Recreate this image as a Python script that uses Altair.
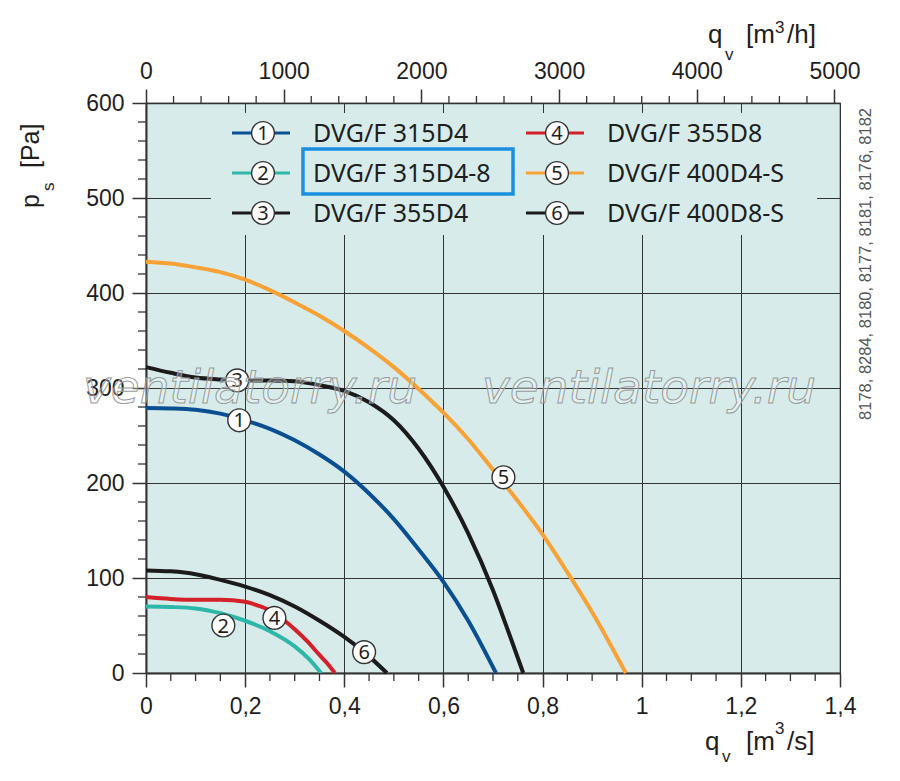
import altair as alt
import pandas as pd

# ---------------- data ----------------
series_names = ["DVG/F 315D4", "DVG/F 315D4-8", "DVG/F 355D4",
                "DVG/F 355D8", "DVG/F 400D4-S", "DVG/F 400D8-S"]
series_nums = ["1", "2", "3", "4", "5", "6"]
series_colors = ["#0b4f93", "#2db7a8", "#1b1b1b", "#d3202a", "#f7a136", "#1b1b1b"]

# curve 1 : DVG/F 315D4
q1 = [0, 0.05, 0.1, 0.15, 0.2, 0.25, 0.3, 0.35, 0.4, 0.45, 0.5, 0.55, 0.6, 0.65, 0.706]
p1 = [279, 278.5, 277, 273, 266, 257, 245, 230, 212, 189, 162, 130, 96, 55, 0]
# curve 2 : DVG/F 315D4-8
q2 = [0, 0.05, 0.1, 0.15, 0.2, 0.25, 0.3, 0.33, 0.353]
p2 = [70, 69.5, 68, 63, 55, 44, 28, 14, 0]
# curve 3 : DVG/F 355D4
q3 = [0, 0.05, 0.1, 0.15, 0.2, 0.25, 0.3, 0.35, 0.4, 0.45, 0.5, 0.55, 0.6, 0.65, 0.7, 0.73, 0.761]
p3 = [322, 316, 311, 309, 308, 308, 307, 303, 297, 285, 266, 236, 196, 147, 87, 45, 0]
# curve 4 : DVG/F 355D8
q4 = [0, 0.05, 0.1, 0.15, 0.2, 0.22, 0.25, 0.28, 0.3, 0.324, 0.35, 0.365, 0.381]
p4 = [80, 78, 77, 77, 75, 72, 66, 55, 46, 34, 19, 10.5, 0]
# curve 5 : DVG/F 400D4-S
q5 = [0, 0.05, 0.1, 0.15, 0.2, 0.25, 0.3, 0.35, 0.4, 0.45, 0.5, 0.55, 0.6, 0.65,
      0.7, 0.75, 0.8, 0.85, 0.9, 0.968]
p5 = [433, 431, 427, 422, 414, 403, 390, 376, 360, 342, 322, 299, 274, 246,
      214, 181, 146, 106, 64, 0]
# curve 6 : DVG/F 400D8-S
q6 = [0, 0.05, 0.1, 0.15, 0.2, 0.25, 0.3, 0.35, 0.4, 0.44, 0.486]
p6 = [108, 107, 104, 98, 91, 82, 70, 55, 38, 22, 0]

# circled curve labels
label_q = [0.188, 0.156, 0.184, 0.259, 0.721, 0.44]
label_p = [266, 50, 308, 58, 206, 22]

# axes
x_ticks = [0, 0.2, 0.4, 0.6, 0.8, 1.0, 1.2, 1.4]
x_minor = [0.05, 0.1, 0.15, 0.25, 0.3, 0.35, 0.45, 0.5, 0.55, 0.65, 0.7, 0.75,
           0.85, 0.9, 0.95, 1.05, 1.1, 1.15, 1.25, 1.3, 1.35]
y_ticks = [0, 100, 200, 300, 400, 500, 600]
y_minor = [20, 40, 60, 80, 120, 140, 160, 180, 220, 240, 260, 280, 320, 340, 360,
           380, 420, 440, 460, 480, 520, 540, 560, 580]
h_ticks = [0, 1000, 2000, 3000, 4000, 5000]
h_minor = [200, 400, 600, 800, 1200, 1400, 1600, 1800, 2200, 2400, 2600, 2800,
           3200, 3400, 3600, 3800, 4200, 4400, 4600, 4800]

code_text = "8178, 8284, 8180, 8177, 8181, 8176, 8182"
watermark = "ventilatorry.ru"

# ---------------- tables ----------------
curve_df = pd.concat([
    pd.DataFrame({"q": q, "p": p, "name": n})
    for q, p, n in zip([q1, q2, q3, q4, q5, q6], [p1, p2, p3, p4, p5, p6], series_names)
], ignore_index=True)
label_df = pd.DataFrame({"q": label_q, "p": label_p, "num": series_nums, "name": series_names})
legend_df = pd.DataFrame({"name": series_names, "num": series_nums,
                          "col": [0, 0, 0, 1, 1, 1], "row": [0, 1, 2, 0, 1, 2]})
one = pd.DataFrame({"a": [0]})

BG = "#d7ecea"
INK = "#1e1e1e"
GRID = "#333333"
AXFONT = "Liberation Sans"
LGFONT = "Noto Sans"

XS = alt.Scale(domain=[0, 1.4], nice=False, zero=False)
YS = alt.Scale(domain=[0, 600], nice=False, zero=False)
CS = alt.Scale(domain=series_names, range=series_colors)

AX_X = alt.Axis(
    orient="bottom", values=x_ticks, title=None, grid=True, gridColor=GRID,
    gridWidth=1, domainColor=GRID, domainWidth=2, tickColor=GRID, tickWidth=1.5,
    tickSize=14, labelFont=AXFONT, labelFontSize=23, labelColor=INK,
    labelPadding=8, labelFlush=False,
    labelExpr="replace(format(datum.value, '~g'), '.', ',')")
AX_Y = alt.Axis(
    orient="left", values=y_ticks, title=None, grid=True, gridColor=GRID,
    gridWidth=1, domainColor=GRID, domainWidth=2, tickColor=GRID, tickWidth=1.5,
    tickSize=14, labelFont=AXFONT, labelFontSize=23, labelColor=INK,
    labelPadding=8, labelFlush=False, format="d")

# ---------------- layers (m3/s scale) ----------------
curves = alt.Chart(curve_df).mark_line(strokeWidth=4, interpolate="monotone").encode(
    x=alt.X("q:Q", scale=XS, axis=AX_X),
    y=alt.Y("p:Q", scale=YS, axis=AX_Y),
    color=alt.Color("name:N", scale=CS, legend=None),
    order=alt.Order("q:Q"),
)

xminor = alt.Chart(pd.DataFrame({"q": x_minor})).mark_rule(color=GRID, strokeWidth=1.3).encode(
    x=alt.X("q:Q", scale=XS, axis=AX_X), y=alt.value(570), y2=alt.value(578))
yminor = alt.Chart(pd.DataFrame({"p": y_minor})).mark_rule(color=GRID, strokeWidth=1.3).encode(
    y=alt.Y("p:Q", scale=YS, axis=AX_Y), x=alt.value(0), x2=alt.value(-8))

legend_bg = alt.Chart(one).mark_rect(fill=BG, stroke=None).encode(
    x=alt.value(65), x2=alt.value(671), y=alt.value(10), y2=alt.value(132))

lg = alt.Chart(legend_df).transform_calculate(
    lx1="86 + datum.col * 294", lx2="144 + datum.col * 294",
    cx="117 + datum.col * 294", tx="167 + datum.col * 294",
    ly="30 + datum.row * 40")
leg_lines = lg.mark_rule(strokeWidth=3).encode(
    x=alt.X("lx1:Q", scale=None), x2="lx2:Q",
    y=alt.Y("ly:Q", scale=None),
    color=alt.Color("name:N", scale=CS, legend=None))
leg_circ = lg.mark_point(shape="circle", size=520, filled=True, fill="white",
                         stroke="#333333", strokeWidth=1.4, opacity=1).encode(
    x=alt.X("cx:Q", scale=None), y=alt.Y("ly:Q", scale=None))
leg_num = lg.mark_text(font=LGFONT, fontSize=20, color=INK, baseline="middle", dy=1).encode(
    x=alt.X("cx:Q", scale=None), y=alt.Y("ly:Q", scale=None), text="num:N")
leg_txt = lg.mark_text(font=LGFONT, fontSize=25, color=INK, align="left", baseline="middle", dy=1).encode(
    x=alt.X("tx:Q", scale=None), y=alt.Y("ly:Q", scale=None), text="name:N")

highlight = alt.Chart(one).mark_rect(fill=None, stroke="#1a8fdf", strokeWidth=3.5).encode(
    x=alt.value(157), x2=alt.value(367), y=alt.value(46), y2=alt.value(91))

lab_circ = alt.Chart(label_df).mark_point(shape="circle", size=520, filled=True, fill="white",
                                          stroke="#333333", strokeWidth=1.4, opacity=1).encode(
    x=alt.X("q:Q", scale=XS, axis=AX_X), y=alt.Y("p:Q", scale=YS, axis=AX_Y))
lab_num = alt.Chart(label_df).mark_text(font=LGFONT, fontSize=20, color=INK, baseline="middle", dy=1).encode(
    x=alt.X("q:Q", scale=XS, axis=AX_X), y=alt.Y("p:Q", scale=YS, axis=AX_Y), text="num:N")


def txt(t, x, y, size, angle=0, align="left", baseline="alphabetic", font=AXFONT, color=INK, **kw):
    return alt.Chart(one).mark_text(text=t, fontSize=size, font=font, color=color, angle=angle,
                                    align=align, baseline=baseline, **kw).encode(
        x=alt.value(x), y=alt.value(y))


titles = [
    # y title  p_s [Pa]
    txt("p", -107, 105, 25, angle=270),
    txt("s", -92, 88, 17, angle=270),
    txt("[Pa]", -107, 65, 25, angle=270),
    # top title q_v [m3/h]
    txt("q", 562, -60, 26), txt("v", 579, -43, 17), txt("[m", 600, -60, 26),
    txt("3", 629, -70, 17), txt("/h]", 641, -60, 26),
    # bottom title q_v [m3/s]
    txt("q", 559, 647, 26), txt("v", 576, 659, 17), txt("[m", 600, 647, 26),
    txt("3", 629, 631, 17), txt("/s]", 641, 647, 26),
    # side code text
    txt(code_text, 720, 161, 16.5, angle=270, align="center", baseline="middle", color="#555555"),
]

marks = [
    txt(watermark, x, 300, 47, align="center", font="DejaVu Sans", fontStyle="italic",
        fill="#ffffff", fillOpacity=0.3, stroke="#979b9b", strokeWidth=1)
    for x in (104, 503)
]

layer_s = alt.layer(curves, xminor, yminor, legend_bg, leg_lines, leg_circ, leg_num, leg_txt,
                    highlight, lab_circ, lab_num, *titles, *marks)

# ---------------- top axis (m3/h scale) ----------------
top = alt.Chart(pd.DataFrame({"h": h_minor})).mark_rule(color=GRID, strokeWidth=1.3).encode(
    x=alt.X("h:Q", scale=alt.Scale(domain=[0, 5040], nice=False, zero=False), axis=alt.Axis(
        orient="top", values=h_ticks, title=None, grid=False, domainColor=GRID, domainWidth=1.5,
        tickColor=GRID, tickWidth=1.5, tickSize=14, labelFont=AXFONT, labelFontSize=23,
        labelColor=INK, labelPadding=6, labelFlush=False, format="d")),
    y=alt.value(0), y2=alt.value(-7))

chart = alt.layer(layer_s, top).resolve_scale(x="independent").properties(
    width=694, height=570,
    padding={"left": 138, "top": 95, "right": 52, "bottom": 100},
    autosize=alt.AutoSizeParams(type="none"),
    background="white",
).configure_view(fill=BG, stroke=GRID, strokeWidth=1.2)

chart.save("out.html", embed_options={"renderer": "svg", "actions": False})
